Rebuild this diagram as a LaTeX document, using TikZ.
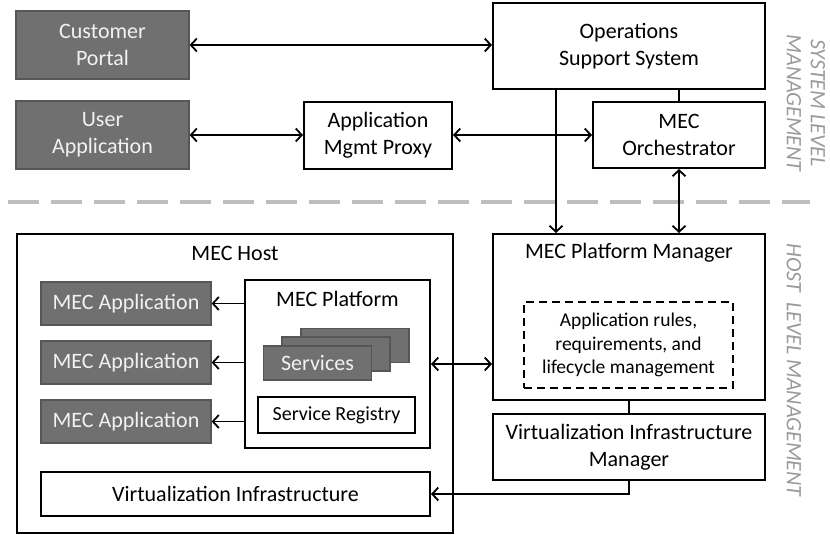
\documentclass[tikz,border=0pt]{standalone}
\usepackage{fontspec}
\setmainfont{Carlito}
\usetikzlibrary{arrows.meta}

\definecolor{appfill}{HTML}{707070}
\definecolor{appedge}{HTML}{565656}
\definecolor{apptext}{HTML}{F2F2F2}
\definecolor{sidegray}{HTML}{9A9A9A}
\definecolor{sepgray}{HTML}{BEBEBE}

\tikzset{
  base/.style={rectangle, inner sep=0pt, align=center,
    font=\fontsize{22}{27}\selectfont},
  whitebox/.style={base, draw=black, line width=2pt, fill=white, text=black},
  graybox/.style={base, draw=appedge, line width=1.2pt, fill=appfill, text=apptext},
  plainlabel/.style={base, text=black},
  sidelabel/.style={base, text=sidegray, rotate=-90,
    font=\fontsize{22}{24}\selectfont\itshape},
  conn/.style={line width=1.8pt, draw=black,
    >={Straight Barb[length=6pt, width=13pt, line width=1.8pt]}},
  uni/.style={conn, ->},
  bi/.style={conn, <->},
}

\begin{document}
\begin{tikzpicture}[x=1pt, y=-1pt]
  \useasboundingbox (0,0) rectangle (830,535);

  % system level management
  \node[graybox, minimum width=173pt, minimum height=68pt] (cp) at (102.5,45) {Customer\\Portal};
  \node[graybox, minimum width=173pt, minimum height=68pt] (ua) at (102.5,135) {User\\Application};
  \node[whitebox, minimum width=148pt, minimum height=67pt] (amp) at (378,135) {Application\\Mgmt Proxy};
  \node[whitebox, minimum width=272pt, minimum height=86pt] (oss) at (629,46) {Operations\\Support System};
  \node[whitebox, minimum width=172pt, minimum height=66pt] (orch) at (679,135) {MEC\\Orchestrator};

  % level separator
  \draw[sepgray, line width=4pt, dash pattern=on 31pt off 12pt] (8,202) -- (810,202);

  % MEC host
  \node[whitebox, minimum width=436pt, minimum height=299pt] (host) at (235,383.5) {};
  \node[plainlabel] (hostlbl) at (235,253) {MEC Host};
  \node[graybox, minimum width=170pt, minimum height=43pt] (app1) at (126,303.5) {MEC Application};
  \node[graybox, minimum width=170pt, minimum height=43pt] (app2) at (126,362.5) {MEC Application};
  \node[graybox, minimum width=170pt, minimum height=43pt] (app3) at (126,421.5) {MEC Application};
  \node[whitebox, minimum width=185pt, minimum height=168pt] (plat) at (337.5,364) {};
  \node[plainlabel] (platlbl) at (337.5,299) {MEC Platform};
  \node[graybox, minimum width=108pt, minimum height=34pt] (svc3) at (355,345.5) {};
  \node[graybox, minimum width=108pt, minimum height=34pt] (svc2) at (336,354) {};
  \node[graybox, minimum width=108pt, minimum height=34pt] (svc1) at (317.5,363) {Services};
  \node[whitebox, minimum width=157pt, minimum height=36pt,
        font=\fontsize{20}{24}\selectfont] (sreg) at (336.5,415) {Service Registry};
  \node[whitebox, minimum width=389pt, minimum height=44pt] (vi) at (235.5,494) {Virtualization Infrastructure};

  % host level management
  \node[whitebox, minimum width=272pt, minimum height=166pt] (pm) at (629,317) {};
  \node[plainlabel] (pmlbl) at (629,253) {MEC Platform Manager};
  \node[base, draw=black, line width=2pt, dash pattern=on 8pt off 5pt,
        minimum width=209pt, minimum height=86pt,
        font=\fontsize{19.5}{23.5}\selectfont] (rules) at (628.5,345)
        {Application rules,\\requirements, and\\lifecycle management};
  \node[whitebox, minimum width=272pt, minimum height=66pt] (vim) at (629,447) {Virtualization Infrastructure\\Manager};

  % side captions
  \node[sidelabel] (syslbl) at (806,103) {SYSTEM LEVEL\\MANAGEMENT};
  \node[sidelabel] (hostlvl) at (794,370) {HOST\ \ LEVEL MANAGEMENT};

  % connectors
  \coordinate (ossdown) at (556,0);
  \draw[bi] (cp.east) -- (cp.east -| oss.west);
  \draw[bi] (ua.east) -- (amp.west);
  \draw[bi] (amp.east) -- (amp.east -| orch.west);
  \draw[conn] (oss.south -| orch) -- (orch.north);
  \draw[uni] (oss.south -| ossdown) -- (pm.north -| ossdown);
  \draw[bi] (orch.south) -- (pm.north -| orch);
  \draw[uni] (plat.west |- app1) -- (app1.east);
  \draw[uni] (plat.west |- app2) -- (app2.east);
  \draw[uni] (plat.west |- app3) -- (app3.east);
  \draw[bi] (pm.west |- plat) -- (plat.east);
  \draw[conn] (pm.south) -- (vim.north);
  \draw[uni] (vim.south) |- (vi.east);
\end{tikzpicture}
\end{document}
